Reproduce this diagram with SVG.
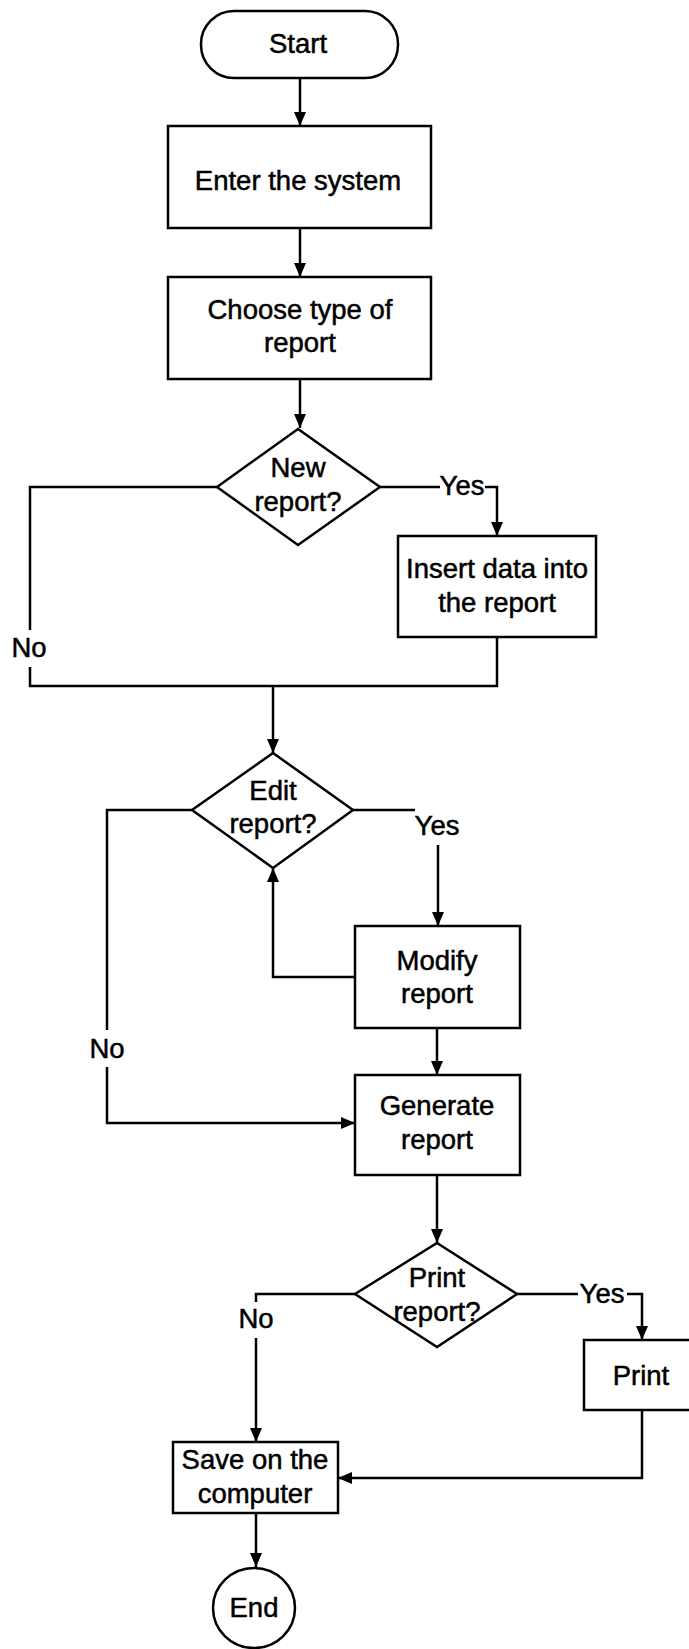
<svg xmlns="http://www.w3.org/2000/svg" width="689" height="1649" viewBox="0 0 689 1649">
<defs>
<marker id="arr" markerUnits="userSpaceOnUse" markerWidth="14" markerHeight="12" refX="14" refY="6" orient="auto">
<path d="M0,0 L14,6 L0,12 z" fill="#000"/>
</marker>
<style>
.s{fill:#fff;stroke:#000;stroke-width:2.5}
.t{font-family:"Liberation Sans",Arial,sans-serif;font-size:27.5px;fill:#000;stroke:#000;stroke-width:0.5;text-anchor:middle}
.c{fill:none;stroke:#000;stroke-width:2.5}
</style>
</defs>
<rect width="689" height="1649" fill="#fff"/>
<g id="connectors">
<path class="c" d="M300,78 V126" marker-end="url(#arr)"/>
<path class="c" d="M300,228 V277" marker-end="url(#arr)"/>
<path class="c" d="M300,379 V428" marker-end="url(#arr)"/>
<path class="c" d="M380,487 H440"/>
<path class="c" d="M485,487 H497 V536" marker-end="url(#arr)"/>
<path class="c" d="M217,487 H30 V630"/>
<path class="c" d="M30,667 V686 H497 V637"/>
<path class="c" d="M273,686 V753" marker-end="url(#arr)"/>
<path class="c" d="M353,810 H415"/>
<path class="c" d="M438,845 V926" marker-end="url(#arr)"/>
<path class="c" d="M192,810 H107 V1030"/>
<path class="c" d="M107,1067 V1123 H355" marker-end="url(#arr)"/>
<path class="c" d="M355,977 H273 V868" marker-end="url(#arr)"/>
<path class="c" d="M437,1028 V1075" marker-end="url(#arr)"/>
<path class="c" d="M437,1175 V1243" marker-end="url(#arr)"/>
<path class="c" d="M355,1294 H256 V1302"/>
<path class="c" d="M256,1338 V1442" marker-end="url(#arr)"/>
<path class="c" d="M517,1294 H578"/>
<path class="c" d="M627,1294 H642 V1340" marker-end="url(#arr)"/>
<path class="c" d="M642,1410 V1478 H338" marker-end="url(#arr)"/>
<path class="c" d="M256,1513 V1567" marker-end="url(#arr)"/>
<text class="t" x="29" y="657">No</text>
<text class="t" x="462" y="495">Yes</text>
<text class="t" x="437" y="835">Yes</text>
<text class="t" x="107" y="1058">No</text>
<text class="t" x="256" y="1328">No</text>
<text class="t" x="602" y="1303">Yes</text>
</g>
<g id="start">
<rect class="s" x="201" y="11" width="197" height="67" rx="33"/>
<text class="t" x="298" y="53">Start</text>
</g>
<g id="enter">
<rect class="s" x="168" y="126" width="263" height="102"/>
<text class="t" x="298" y="190">Enter the system</text>
</g>
<g id="choose">
<rect class="s" x="168" y="277" width="263" height="102"/>
<text class="t" x="300" y="319">Choose type of</text>
<text class="t" x="300" y="352">report</text>
</g>
<g id="newreport">
<polygon class="s" points="298,429 380,487 298,545 217,487"/>
<text class="t" x="298" y="477">New</text>
<text class="t" x="298" y="511">report?</text>
</g>
<g id="insert">
<rect class="s" x="398" y="536" width="198" height="101"/>
<text class="t" x="497" y="578">Insert data into</text>
<text class="t" x="497" y="612">the report</text>
</g>
<g id="editreport">
<polygon class="s" points="273,753 353,810 273,868 192,810"/>
<text class="t" x="273" y="800">Edit</text>
<text class="t" x="273" y="833">report?</text>
</g>
<g id="modify">
<rect class="s" x="355" y="926" width="165" height="102"/>
<text class="t" x="437" y="970">Modify</text>
<text class="t" x="437" y="1003">report</text>
</g>
<g id="generate">
<rect class="s" x="355" y="1075" width="165" height="100"/>
<text class="t" x="437" y="1115">Generate</text>
<text class="t" x="437" y="1149">report</text>
</g>
<g id="printreport">
<polygon class="s" points="437,1243 517,1294 437,1347 355,1294"/>
<text class="t" x="437" y="1287">Print</text>
<text class="t" x="437" y="1321">report?</text>
</g>
<g id="print">
<rect class="s" x="584" y="1340" width="120" height="70"/>
<text class="t" x="641" y="1385">Print</text>
</g>
<g id="save">
<rect class="s" x="173" y="1442" width="165" height="71"/>
<text class="t" x="255" y="1469">Save on the</text>
<text class="t" x="255" y="1503">computer</text>
</g>
<g id="end">
<ellipse class="s" cx="254" cy="1608" rx="41" ry="40"/>
<text class="t" x="254" y="1617">End</text>
</g>
</svg>
